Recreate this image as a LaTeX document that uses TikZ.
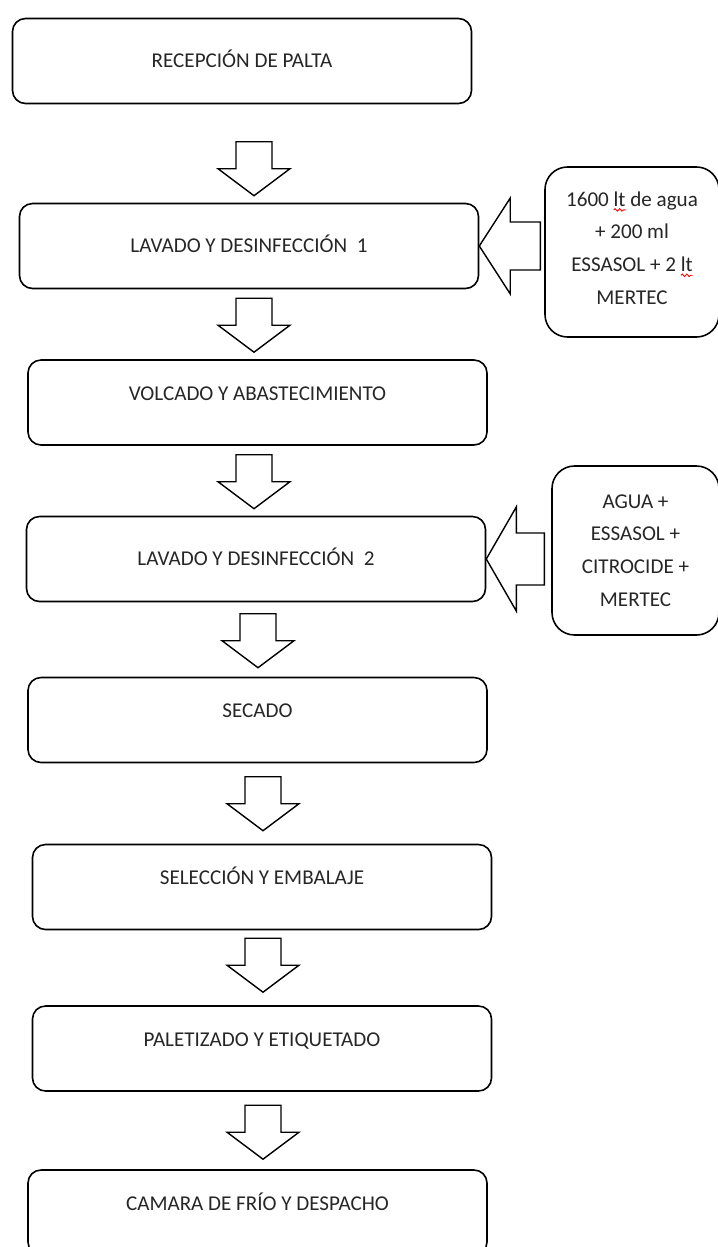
\documentclass[tikz,border=0pt]{standalone}
\usepackage{fontspec}
\setmainfont{Carlito}
\usepackage{tikz}
\usetikzlibrary{decorations.pathmorphing}
\newcommand\ondaroja[1]{\tikz[baseline=(t.base)]{\node[inner sep=0pt,outer sep=0pt,draw=none,minimum size=0pt] (t) {#1};
	\draw[overlay,red,line width=0.5pt,rounded corners=0pt,decorate,decoration={snake,amplitude=0.7pt,segment length=2.6pt}] ([yshift=-2pt]t.south west) -- ([yshift=-2pt]t.south east);}}

\begin{document}
\begin{tikzpicture}[
	paso/.style={draw,rounded corners=0.26cm,minimum width=9.18cm,minimum height=1.7cm,line width=0.9pt,text=black!85,font=\fontsize{12}{14}\selectfont,text height=7.7pt,text depth=0pt},
	arriba/.style={text depth=10.2pt},
	insumo/.style={draw,rounded corners=0.45cm,line width=0.9pt,align=center,text=black!85,font=\fontsize{12}{18.6}\selectfont},
	flecha/.style={draw,line width=0.8pt,line join=miter}]
	\clip (0,0) rectangle (14.36,-24.94);
	\node[paso] (recepcion) at (4.84,-1.22) {RECEPCIÓN DE PALTA};
	\node[paso] (lavado1) at (4.98,-4.92) {LAVADO Y DESINFECCIÓN~~1};
	\node[paso,arriba] (volcado) at (5.15,-8.05) {VOLCADO Y ABASTECIMIENTO};
	\node[paso] (lavado2) at (5.12,-11.18) {LAVADO Y DESINFECCIÓN~~2};
	\node[paso,arriba] (secado) at (5.15,-14.4) {SECADO};
	\node[paso,arriba] (seleccion) at (5.24,-17.74) {SELECCIÓN Y EMBALAJE};
	\node[paso,arriba] (paletizado) at (5.24,-20.97) {PALETIZADO Y ETIQUETADO};
	\node[paso,arriba] (camara) at (5.15,-24.25) {CAMARA DE FRÍO Y DESPACHO};
	\node[insumo,minimum width=3.48cm,minimum height=3.4cm,text depth=4.6pt] (mezcla1) at (12.64,-5.04) {1600 \ondaroja{lt} de agua\\+ 200 ml\\ESSASOL + 2 \ondaroja{lt}\\MERTEC};
	\node[insumo,minimum width=3.34cm,minimum height=3.38cm] (mezcla2) at (12.71,-11.01) {AGUA +\\ESSASOL +\\CITROCIDE +\\MERTEC};
	% flechas de bloque hacia abajo
	\draw[flecha] ([xshift=0.1cm,yshift=0.14cm]lavado1.north) -- ++(-0.72,0.54) -- ++(0.36,0) -- ++(0,0.54) -- ++(0.72,0) -- ++(0,-0.54) -- ++(0.36,0) -- cycle;
	\draw[flecha] ([xshift=-0.07cm,yshift=0.14cm]volcado.north) -- ++(-0.72,0.54) -- ++(0.36,0) -- ++(0,0.54) -- ++(0.72,0) -- ++(0,-0.54) -- ++(0.36,0) -- cycle;
	\draw[flecha] ([xshift=-0.04cm,yshift=0.14cm]lavado2.north) -- ++(-0.72,0.54) -- ++(0.36,0) -- ++(0,0.54) -- ++(0.72,0) -- ++(0,-0.54) -- ++(0.36,0) -- cycle;
	\draw[flecha] ([xshift=0.01cm,yshift=0.18cm]secado.north) -- ++(-0.72,0.54) -- ++(0.36,0) -- ++(0,0.54) -- ++(0.72,0) -- ++(0,-0.54) -- ++(0.36,0) -- cycle;
	\draw[flecha] ([xshift=0.02cm,yshift=0.26cm]seleccion.north) -- ++(-0.72,0.54) -- ++(0.36,0) -- ++(0,0.54) -- ++(0.72,0) -- ++(0,-0.54) -- ++(0.36,0) -- cycle;
	\draw[flecha] ([xshift=0.02cm,yshift=0.26cm]paletizado.north) -- ++(-0.72,0.54) -- ++(0.36,0) -- ++(0,0.54) -- ++(0.72,0) -- ++(0,-0.54) -- ++(0.36,0) -- cycle;
	\draw[flecha] ([xshift=0.11cm,yshift=0.2cm]camara.north) -- ++(-0.72,0.54) -- ++(0.36,0) -- ++(0,0.54) -- ++(0.72,0) -- ++(0,-0.54) -- ++(0.36,0) -- cycle;
	% flechas de los insumos
	\draw[flecha] (lavado1.east) -- ++(0.62,0.96) -- ++(0,-0.48) -- ++(0.6,0) -- ++(0,-0.96) -- ++(-0.6,0) -- ++(0,-0.48) -- cycle;
	\draw[flecha] (lavado2.east) -- ++(0.6,1.04) -- ++(0,-0.52) -- ++(0.56,0) -- ++(0,-1.04) -- ++(-0.56,0) -- ++(0,-0.52) -- cycle;
\end{tikzpicture}
\end{document}
